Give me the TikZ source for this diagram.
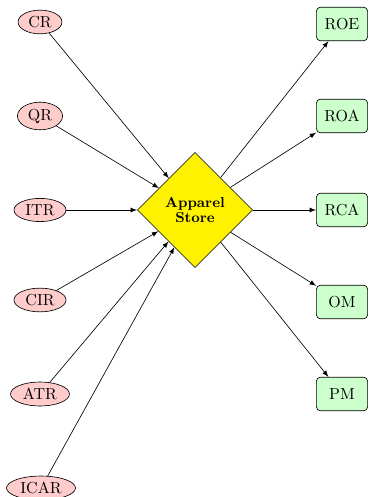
\documentclass[tikz,border=0pt]{standalone}
\usetikzlibrary{shapes.geometric}
\tikzset{
  ratio/.style={ellipse,draw,fill=red!20,inner xsep=2.4pt,inner ysep=1.6pt},
  measure/.style={rectangle,draw,rounded corners=2.5pt,fill=green!20,minimum width=32pt,minimum height=21pt},
  store/.style={diamond,draw,fill=yellow,minimum size=72pt,inner sep=0pt,font=\small\bfseries,align=center}
}
\begin{document}
\begin{tikzpicture}[x=0.625pt,y=0.625pt,>=latex]
  \useasboundingbox (0,0) rectangle (374,-497);
  \node[store] (store) at (195,-210) {Apparel\\[-2pt]Store};
  % inputs
  \node[ratio] (cr) at (40,-22) {CR};
  \node[ratio] (qr) at (40,-116) {QR};
  \node[ratio] (itr) at (40,-210) {ITR};
  \node[ratio] (cir) at (40,-300) {CIR};
  \node[ratio] (atr) at (40,-394) {ATR};
  \node[ratio] (icar) at (41,-488) {ICAR};
  % outputs
  \node[measure] (roe) at (342,-24) {ROE};
  \node[measure] (roa) at (342,-116) {ROA};
  \node[measure] (rca) at (342,-210) {RCA};
  \node[measure] (om) at (342,-302) {OM};
  \node[measure] (pm) at (342,-394) {PM};
  \foreach \n in {cr,qr,itr,cir,atr,icar}
    \draw[->] (\n) -- (store);
  \foreach \n in {roe,roa,rca,om,pm}
    \draw[->] (store) -- (\n);
\end{tikzpicture}
\end{document}
